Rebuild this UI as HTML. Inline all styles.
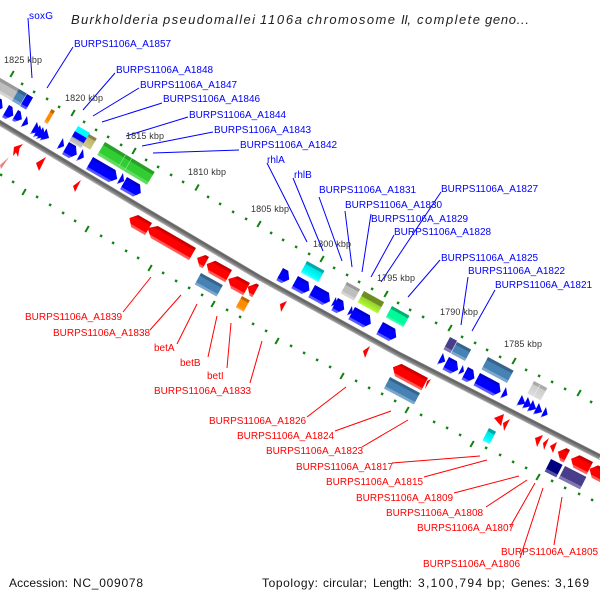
<!DOCTYPE html>
<html><head><meta charset="utf-8"><style>
html,body{margin:0;padding:0;background:#fff}
svg{display:block}
text{font-family:"Liberation Sans",sans-serif;font-size:10px}
.b text{fill:#0000ff}.r text{fill:#ff0000}
.k text{fill:#333;font-size:9px}
.t text{font-size:13px;font-style:italic;fill:#222}
.f text{font-size:12px;fill:#111}
</style></head><body>
<svg width="600" height="600" viewBox="0 0 600 600" xmlns="http://www.w3.org/2000/svg">
<defs>
<linearGradient id="b" x1="0" y1="0" x2="0" y2="1"><stop offset="0" stop-color="#0000c0"/><stop offset=".2" stop-color="#0000e0"/><stop offset=".25" stop-color="#0000ff"/><stop offset=".8" stop-color="#0000ff"/><stop offset=".82" stop-color="#5050ff"/><stop offset="1" stop-color="#6060ff"/></linearGradient>
<linearGradient id="r" x1="0" y1="0" x2="0" y2="1"><stop offset="0" stop-color="#c00000"/><stop offset=".2" stop-color="#d80000"/><stop offset=".25" stop-color="#ff0000"/><stop offset=".8" stop-color="#ff0000"/><stop offset=".82" stop-color="#ff5050"/><stop offset="1" stop-color="#ff6060"/></linearGradient>
<linearGradient id="st" x1="0" y1="0" x2="0" y2="1"><stop offset="0" stop-color="#36648b"/><stop offset=".22" stop-color="#36648b"/><stop offset=".25" stop-color="#4682b4"/><stop offset=".78" stop-color="#4682b4"/><stop offset=".8" stop-color="#7ba7cc"/><stop offset="1" stop-color="#7ba7cc"/></linearGradient>
<linearGradient id="gy" x1="0" y1="0" x2="0" y2="1"><stop offset="0" stop-color="#999"/><stop offset=".22" stop-color="#999"/><stop offset=".25" stop-color="#bebebe"/><stop offset=".78" stop-color="#bebebe"/><stop offset=".8" stop-color="#d5d5d5"/><stop offset="1" stop-color="#d5d5d5"/></linearGradient>
<linearGradient id="gn" x1="0" y1="0" x2="0" y2="1"><stop offset="0" stop-color="#28a028"/><stop offset=".22" stop-color="#28a028"/><stop offset=".25" stop-color="#32cd32"/><stop offset=".78" stop-color="#32cd32"/><stop offset=".8" stop-color="#5fdc5f"/><stop offset="1" stop-color="#5fdc5f"/></linearGradient>
<linearGradient id="cy" x1="0" y1="0" x2="0" y2="1"><stop offset="0" stop-color="#00a8a8"/><stop offset=".22" stop-color="#00a8a8"/><stop offset=".25" stop-color="#00e0e0"/><stop offset=".78" stop-color="#00ffff"/><stop offset="1" stop-color="#50ffff"/></linearGradient>
<linearGradient id="ol" x1="0" y1="0" x2="0" y2="1"><stop offset="0" stop-color="#6b8e23"/><stop offset=".4" stop-color="#6b8e23"/><stop offset=".45" stop-color="#9acd32"/><stop offset="1" stop-color="#adff2f"/></linearGradient>
<linearGradient id="sg" x1="0" y1="0" x2="0" y2="1"><stop offset="0" stop-color="#00b070"/><stop offset=".22" stop-color="#00b070"/><stop offset=".25" stop-color="#00fa9a"/><stop offset=".78" stop-color="#00fa9a"/><stop offset="1" stop-color="#60fcc0"/></linearGradient>
<linearGradient id="or" x1="0" y1="0" x2="0" y2="1"><stop offset="0" stop-color="#c06800"/><stop offset=".22" stop-color="#c06800"/><stop offset=".25" stop-color="#ff8c00"/><stop offset=".78" stop-color="#ff8c00"/><stop offset="1" stop-color="#ffb050"/></linearGradient>
<linearGradient id="kh" x1="0" y1="0" x2="0" y2="1"><stop offset="0" stop-color="#8b8050"/><stop offset=".22" stop-color="#8b8050"/><stop offset=".25" stop-color="#bdb76b"/><stop offset="1" stop-color="#cfc98f"/></linearGradient>
<linearGradient id="nv" x1="0" y1="0" x2="0" y2="1"><stop offset="0" stop-color="#000080"/><stop offset=".75" stop-color="#000080"/><stop offset=".78" stop-color="#5050a0"/><stop offset="1" stop-color="#5050a0"/></linearGradient>
<linearGradient id="pu" x1="0" y1="0" x2="0" y2="1"><stop offset="0" stop-color="#483d8b"/><stop offset=".75" stop-color="#483d8b"/><stop offset=".78" stop-color="#8078b0"/><stop offset="1" stop-color="#8078b0"/></linearGradient>
<linearGradient id="wg" x1="0" y1="0" x2="0" y2="1"><stop offset="0" stop-color="#aaa"/><stop offset=".22" stop-color="#aaa"/><stop offset=".25" stop-color="#ccc"/><stop offset="1" stop-color="#ddd"/></linearGradient>
</defs>

<!-- backbone -->
<path d="M-10 117L0 123L130 201L260 278L400 355L600 457" fill="none" stroke="#808080" stroke-width="5.500"/>
<path d="M-10 115.800L0 121.800L130 199.800L260 276.800L400 353.800L600 455.800" fill="none" stroke="#666" stroke-width="2"/>
<path d="M-10 119.500L0 125.500L130 203.500L260 280.500L400 357.500L600 459.500" fill="none" stroke="#aaa" stroke-width="1"/>

<!-- ticks -->
<g fill="none" stroke="#0f820f">
<path stroke-width="2" d="M10.300 77l3.500-6M71.300 116l3.500-6M132.300 154l3.500-6M195.300 190.500l3.500-6M257.300 227l3.500-6M320.300 262l3.500-6M384.300 297l3.500-6M448.300 331l3.500-6M512.300 364l3.500-6M577.300 396l3.500-6M22.300 195l3.500-6M85.300 232l3.500-6M148.300 271l3.500-6M211.300 307l3.500-6M275.300 344l3.500-6M340.300 379l3.500-6M405.300 413l3.500-6M470.300 447l3.500-6M536.300 480l3.500-6"/>
<path stroke-width="2.400" d="M21.500 85l1.200-2.200M33.500 93l1.200-2.200M46.500 100l1.200-2.200M58.500 108l1.200-2.200M83.500 123l1.200-2.200M95.500 131l1.200-2.200M107.500 138l1.200-2.200M120.500 146l1.200-2.200M145.500 161l1.200-2.200M157.500 168l1.200-2.200M170.500 176l1.200-2.200M182.500 183l1.200-2.200M207.500 198l1.200-2.200M219.500 205l1.200-2.200M232.500 213l1.200-2.200M245.500 220l1.200-2.200M270.500 234l1.200-2.200M282.500 241l1.200-2.200M295.500 248l1.200-2.200M308.500 255l1.200-2.200M333.500 269l1.200-2.200M346.500 276l1.200-2.200M358.500 283l1.200-2.200M371.500 290l1.200-2.200M397.500 304l1.200-2.200M409.500 311l1.200-2.200M422.500 318l1.200-2.200M435.500 324l1.200-2.200M461.500 338l1.200-2.200M474.500 344l1.200-2.200M486.500 351l1.200-2.200M499.500 358l1.200-2.200M525.500 371l1.200-2.200M538.500 377l1.200-2.200M551.500 383l1.200-2.200M564.500 390l1.200-2.200M590.500 403l1.200-2.200M0.500 176l1.200-2.200M12.500 183l1.200-2.200M36.500 198l1.200-2.200M49.500 206l1.200-2.200M62.500 214l1.200-2.200M74.500 222l1.200-2.200M100.500 237l1.200-2.200M112.500 244l1.200-2.200M125.500 252l1.200-2.200M137.500 259l1.200-2.200M162.500 274l1.200-2.200M175.500 282l1.200-2.200M188.500 289l1.200-2.200M201.500 296l1.200-2.200M226.500 311l1.200-2.200M239.500 318l1.200-2.200M252.500 325l1.200-2.200M265.500 332l1.200-2.200M290.500 347l1.200-2.200M303.500 354l1.200-2.200M316.500 361l1.200-2.200M329.500 368l1.200-2.200M355.500 382l1.200-2.200M368.500 389l1.200-2.200M381.500 395l1.200-2.200M394.500 402l1.200-2.200M420.500 416l1.200-2.200M433.500 423l1.200-2.200M446.500 429l1.200-2.200M459.500 436l1.200-2.200M485.500 449l1.200-2.200M499.500 456l1.200-2.200M512.500 463l1.200-2.200M525.500 469l1.200-2.200M551.500 482l1.200-2.200M564.500 489l1.200-2.200M578.500 495l1.200-2.200M591.500 501l1.200-2.200"/>
</g>

<!-- leader lines -->
<g stroke="#0000ff" stroke-width="1" fill="none">
<path d="M28 18L32 78M73 47L47 88M115 73L83 110M139 88L93 116M162 103L102 122M188 117L126 136M213 132L142 146M239 150L153 153M267 163L307 242M293 178L323 251M319 197L342 261M345 211L352 267M371 214L362 272M394 235L371 277M441 192L381 282M440 260L408 297M468 277L461 325M495 290L472 331"/>
</g>
<g stroke="#ff0000" stroke-width="1" fill="none">
<path d="M151 277L123 312M181 295L150 330M197 304L177 344M217 316L208 357M231 323L227 368M262 341L250 383M346 387L307 417M391 411L335 431M408 420L362 447M480 456L392 463M487 460L424 477M519 476L454 493M527 480L486 507M535 483L510 527M543 488L520 558M562 497L554 545"/>
</g>

<!-- upper-left genes -->
<rect fill="url(#gy)" width="28" height="14" transform="translate(-5 75) rotate(30)"/>
<rect fill="url(#st)" width="9" height="14" transform="translate(19 89) rotate(30)"/>
<rect fill="url(#b)" width="7" height="14" transform="translate(27 94) rotate(30)"/>
<rect fill="url(#or)" width="4" height="15" transform="translate(51.500 109) rotate(30)"/>
<rect fill="url(#gy)" width="14" height="6" transform="translate(72 136) rotate(30)"/>
<rect fill="#0000ff" width="14" height="6" transform="translate(75 131) rotate(30)"/>
<rect fill="#00ffff" width="14" height="6" transform="translate(78 126) rotate(30)"/>
<rect fill="url(#kh)" width="9" height="13" transform="translate(89 134) rotate(30)"/>
<g>
<rect fill="url(#gn)" width="58" height="15" transform="translate(105 142) rotate(31)"/>
<path d="M126 154l-7 12M132 158l-7 12" stroke="#8fe88f" stroke-width=".7"/>
</g>
<g fill="url(#b)">
<path transform="translate(-6 95) rotate(30)" d="M0 0h9l5 7l-5 7h-9z"/>
<path transform="translate(9 105) rotate(30)" d="M0 0h4l5 7l-5 7h-4z"/>
<path transform="translate(18 110) rotate(30)" d="M0 0h3l5 6l-5 6h-3z"/>
<path transform="translate(27 116) rotate(30)" d="M0 0l5 6.500l-5 6.500z"/>
<path transform="translate(37 122) rotate(30)" d="M0 0l7 7l-7 7z"/>
<path transform="translate(40 125) rotate(30)" d="M0 0l7 7l-7 7z"/>
<path transform="translate(43 127) rotate(30)" d="M0 0l7 7l-7 7z"/>
<path transform="translate(46.500 128.500) rotate(30)" d="M0 0l7 7l-7 7z"/>
<path transform="translate(63 138) rotate(30)" d="M0 0l5 6.500l-5 6.500z"/>
<path transform="translate(69 142) rotate(30)" d="M0 0h8l5 7l-5 7h-8z"/>
<path transform="translate(83 149) rotate(30)" d="M0 0l5 7l-5 7z"/>
<path transform="translate(93 157) rotate(30)" d="M0 0h26l6 7l-6 7h-26z"/>
<path transform="translate(123 173) rotate(30)" d="M0 0l5 6.500l-5 6.500z"/>
<path transform="translate(127 177) rotate(30)" d="M0 0h15l5 7l-5 7h-15z"/>
</g>

<!-- mid upper genes -->
<rect fill="url(#cy)" width="20" height="13" transform="translate(307 261) rotate(29)"/>
<rect fill="url(#gy)" width="15" height="13" transform="translate(347 282) rotate(29)"/>
<rect fill="url(#ol)" width="23" height="13" transform="translate(364 291) rotate(29)"/>
<rect fill="url(#sg)" width="20" height="13" transform="translate(392 306) rotate(29)"/>
<g fill="url(#b)">
<path transform="translate(283 268) rotate(29)" d="M0 0h6l5 7l-5 7h-6z"/>
<path transform="translate(298 276) rotate(29)" d="M0 0h12l5 7l-5 7h-12z"/>
<path transform="translate(315 285) rotate(29)" d="M0 0h16l5 7l-5 7h-16z"/>
<path transform="translate(336 297) rotate(29)" d="M0 0l4 5.500l-4 5.500z"/>
<path transform="translate(338 298) rotate(29)" d="M0 0h6l5 7l-5 7h-6z"/>
<path transform="translate(352 306) rotate(29)" d="M0 0l4 5.500l-4 5.500z"/>
<path transform="translate(355 307) rotate(29)" d="M0 0h17l5 7l-5 7h-17z"/>
<path transform="translate(383 322) rotate(29)" d="M0 0h14l5 7l-5 7h-14z"/>
</g>

<!-- right upper genes -->
<rect fill="url(#pu)" width="8" height="14" transform="translate(450 337) rotate(28)"/>
<rect fill="url(#st)" width="16" height="13" transform="translate(457 342) rotate(28)"/>
<rect fill="url(#st)" width="29" height="14" transform="translate(488 357) rotate(28)"/>
<rect fill="url(#wg)" width="15" height="14" transform="translate(534 381) rotate(28)"/>
<path d="M540 385l-7 12" stroke="#eee" stroke-width=".6"/>
<g fill="url(#b)">
<path transform="translate(443 353) rotate(28)" d="M0 0l6 6.500l-6 6.500z"/>
<path transform="translate(449 357) rotate(28)" d="M0 0h9l5 7l-5 7h-9z"/>
<path transform="translate(463 365) rotate(28)" d="M0 0l4 5.500l-4 5.500z"/>
<path transform="translate(468 367) rotate(28)" d="M0 0h6l5 7l-5 7h-6z"/>
<path transform="translate(480 373) rotate(28)" d="M0 0h22l5 7l-5 7h-22z"/>
<path transform="translate(506 387) rotate(28)" d="M0 0l5 6.500l-5 6.500z"/>
<path transform="translate(522 395) rotate(28)" d="M0 0l7 6l-7 6z"/>
<path transform="translate(528 397) rotate(28)" d="M0 0l7 6.500l-7 6.500z"/>
<path transform="translate(533 400) rotate(28)" d="M0 0l7 6.500l-7 6.500z"/>
<path transform="translate(539 403) rotate(28)" d="M0 0l7 6.500l-7 6.500z"/>
<path transform="translate(546 407) rotate(28)" d="M0 0l5 6l-5 6z"/>
</g>

<!-- lower genes -->
<rect fill="url(#st)" width="25" height="13" transform="translate(201 273) rotate(29)"/>
<rect fill="url(#or)" width="9" height="13" transform="translate(242 296) rotate(29)"/>
<rect fill="url(#st)" width="34" height="13" transform="translate(390 377) rotate(28)"/>
<rect fill="url(#cy)" width="8" height="14" transform="translate(489 428) rotate(28)"/>
<rect fill="url(#nv)" width="13" height="14" transform="translate(551 459) rotate(27)"/>
<rect fill="url(#pu)" width="24" height="14" transform="translate(565 466) rotate(27)"/>
<g fill="url(#r)">
<path transform="translate(152 223) rotate(30)" d="M0 0h-16l-6 7l6 7h16z"/>
<path transform="translate(196 248) rotate(30)" d="M0 0h-44l-8 7l8 7h44z"/>
<path transform="translate(209 257) rotate(29)" d="M0 0h-4l-6 6.500l6 6.500h4z"/>
<path transform="translate(232 270) rotate(29)" d="M0 0h-19l-6 7l6 7h19z"/>
<path transform="translate(250 283) rotate(29)" d="M0 0h-14l-7 7l7 7h14z"/>
<path transform="translate(259 285) rotate(29)" d="M0 0h-3l-6 7l6 7h3z"/>
<path transform="translate(428 378) rotate(28)" d="M0 0h-30l-6 7l6 7h30z"/>
<path transform="translate(570 450) rotate(27)" d="M0 0h-4l-6 7l6 7h4z"/>
<path transform="translate(593 462) rotate(27)" d="M0 0h-15l-6 7l6 7h15z"/>
<path transform="translate(615 474) rotate(27)" d="M0 0h-19l-6 7l6 7h19z"/>
</g>
<g fill="#ff0000">
<path d="M431 379L425 389L427 381Z"/>
<path d="M23 144L14 147L13 156Z"/>
<path d="M20 146L15 150L18 157Z"/>
<path d="M46 157L36 163L39 171Z"/>
<path d="M81 180L73 186L75 192Z"/>
<path d="M287 301L280 304L281 312Z"/>
<path d="M370 346L363 351L365 358Z"/>
<path d="M504 414L494 418L501 426Z"/>
<path d="M510 419L503 423L504 431Z"/>
<path d="M543 435L535 438L537 447Z"/>
<path d="M549 438L543 443L544 450Z"/>
<path d="M557 442L550 446L553 453Z"/>
</g>
<path d="M9 157L0 165L1 169Z" fill="#f08080"/>

<!-- kbp labels -->
<g class="k">
<text x="4" y="63" textLength="38" lengthAdjust="spacing">1825 kbp</text>
<text x="65" y="101" textLength="38" lengthAdjust="spacing">1820 kbp</text>
<text x="126" y="139" textLength="38" lengthAdjust="spacing">1815 kbp</text>
<text x="188" y="175" textLength="38" lengthAdjust="spacing">1810 kbp</text>
<text x="251" y="212" textLength="38" lengthAdjust="spacing">1805 kbp</text>
<text x="313" y="247" textLength="38" lengthAdjust="spacing">1800 kbp</text>
<text x="377" y="281" textLength="38" lengthAdjust="spacing">1795 kbp</text>
<text x="440" y="315" textLength="38" lengthAdjust="spacing">1790 kbp</text>
<text x="504" y="347" textLength="38" lengthAdjust="spacing">1785 kbp</text>
</g>

<!-- blue labels -->
<g class="b">
<text x="29" y="19" textLength="24" lengthAdjust="spacing">soxG</text>
<text x="74" y="47">BURPS1106A_A1857</text>
<text x="116" y="73">BURPS1106A_A1848</text>
<text x="140" y="88">BURPS1106A_A1847</text>
<text x="163" y="102">BURPS1106A_A1846</text>
<text x="189" y="118">BURPS1106A_A1844</text>
<text x="214" y="133">BURPS1106A_A1843</text>
<text x="240" y="148">BURPS1106A_A1842</text>
<text x="267" y="163">rhlA</text>
<text x="294" y="178">rhlB</text>
<text x="319" y="193">BURPS1106A_A1831</text>
<text x="345" y="208">BURPS1106A_A1830</text>
<text x="371" y="222">BURPS1106A_A1829</text>
<text x="394" y="235">BURPS1106A_A1828</text>
<text x="441" y="192">BURPS1106A_A1827</text>
<text x="441" y="261">BURPS1106A_A1825</text>
<text x="468" y="274">BURPS1106A_A1822</text>
<text x="495" y="288">BURPS1106A_A1821</text>
</g>

<!-- red labels -->
<g class="r">
<text x="25" y="320">BURPS1106A_A1839</text>
<text x="53" y="336">BURPS1106A_A1838</text>
<text x="154" y="351">betA</text>
<text x="180" y="366">betB</text>
<text x="207" y="379">betI</text>
<text x="154" y="394">BURPS1106A_A1833</text>
<text x="209" y="424">BURPS1106A_A1826</text>
<text x="237" y="439">BURPS1106A_A1824</text>
<text x="266" y="454">BURPS1106A_A1823</text>
<text x="296" y="470">BURPS1106A_A1817</text>
<text x="326" y="485">BURPS1106A_A1815</text>
<text x="356" y="501">BURPS1106A_A1809</text>
<text x="386" y="516">BURPS1106A_A1808</text>
<text x="417" y="531">BURPS1106A_A1807</text>
<text x="501" y="555">BURPS1106A_A1805</text>
<text x="423" y="567">BURPS1106A_A1806</text>
</g>

<g class="t">
<text x="71" y="24" textLength="87" lengthAdjust="spacing">Burkholderia</text>
<text x="163" y="24" textLength="92" lengthAdjust="spacing">pseudomallei</text>
<text x="260" y="24" textLength="42" lengthAdjust="spacing">1106a</text>
<text x="307" y="24" textLength="88" lengthAdjust="spacing">chromosome</text>
<text x="401" y="24" textLength="10" lengthAdjust="spacing">II,</text>
<text x="417" y="24" textLength="63" lengthAdjust="spacing">complete</text>
<text x="485" y="24" textLength="44" lengthAdjust="spacing">geno...</text>
</g>
<g class="f">
<text x="9" y="587" textLength="59" lengthAdjust="spacing">Accession:</text>
<text x="73" y="587" textLength="70" lengthAdjust="spacing">NC_009078</text>
<text x="262" y="587" textLength="56" lengthAdjust="spacing">Topology:</text>
<text x="323" y="587" textLength="44" lengthAdjust="spacing">circular;</text>
<text x="373" y="587" textLength="39" lengthAdjust="spacing">Length:</text>
<text x="418" y="587" textLength="64" lengthAdjust="spacing">3,100,794</text>
<text x="487" y="587" textLength="18" lengthAdjust="spacing">bp;</text>
<text x="511" y="587" textLength="39" lengthAdjust="spacing">Genes:</text>
<text x="555" y="587" textLength="34" lengthAdjust="spacing">3,169</text>
</g>
</svg>
</body></html>
